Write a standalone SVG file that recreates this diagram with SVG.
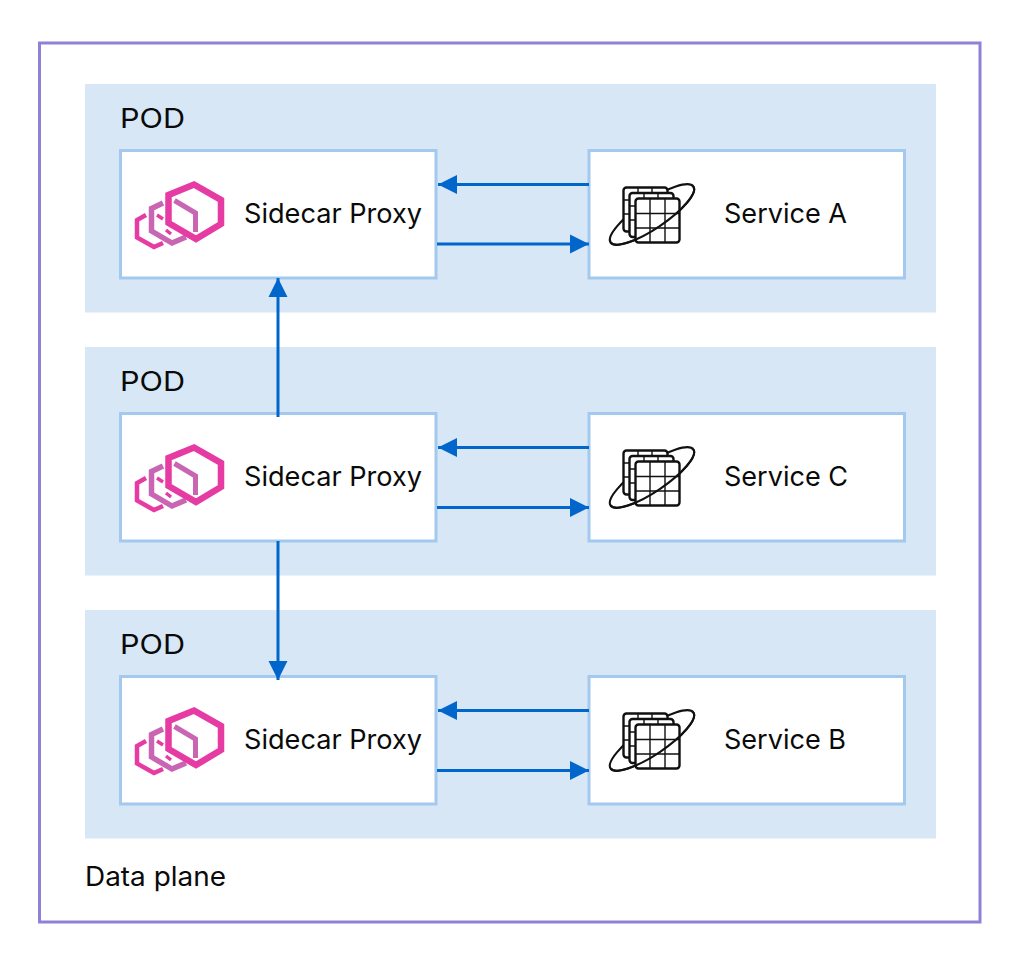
<svg xmlns="http://www.w3.org/2000/svg" xmlns:xlink="http://www.w3.org/1999/xlink" width="1015" height="967" viewBox="0 0 1015 967">
<style>
text{font-family:"Inter","Liberation Sans",sans-serif;fill:#0a0a0a;font-size:27px}
.pod{fill:#d8e7f6}
.box{fill:#fff;stroke:#a3c9ee;stroke-width:3}
.conn{stroke:#0066cc;stroke-width:3;fill:none;marker-end:url(#ah)}
.p{fill:none;stroke:#e63ba3;stroke-linejoin:miter}
.q{fill:none;stroke:#c965b3;stroke-linejoin:miter}
.g{fill:#fff;stroke:#111;stroke-width:2.400}
.l{fill:none;stroke:#111;stroke-width:1.400}
.e{fill:none;stroke:#111;stroke-width:2.100}
</style>
<defs>
<marker id="ah" markerUnits="userSpaceOnUse" markerWidth="20" markerHeight="20" refX="19" refY="10" orient="auto"><path d="M0 .5L19 10L0 19.5Z" fill="#0066cc"/></marker>
<g id="envoy">
<path class="p" stroke-width="4.500" d="M146 215L137 220V237.500L154 247L163 243"/>
<path class="q" stroke-width="5.500" d="M163 203L151.500 208.500V231L172 243L186 237"/>
<path class="p" stroke-width="3.500" d="M157 215L163 219M166 230L171 234"/>
<path class="p" stroke-width="6.500" d="M194 184.500L221 200V224L196 239L168.500 223V195Z"/>
<path class="q" stroke-width="5" d="M174.500 200.500L195.500 213V232"/>
</g>
<g id="svc">
<ellipse class="e" cx="652" cy="214.500" rx="50" ry="14" transform="rotate(-34 652 214.500)"/>
<rect class="g" x="623.500" y="187.500" width="44" height="44" rx="3"/>
<path class="l" d="M638 187V230M652 187V230M623 200H668M623 214H668"/>
<rect class="g" x="629.500" y="193" width="44" height="44" rx="3"/>
<path class="l" d="M644 193V236M658 193V236M629 206H674M629 220H674"/>
<rect class="g" x="635.500" y="198.500" width="44" height="44" rx="3"/>
<path class="l" d="M650 198V242M665 198V242M635 213.500H679M635 228H679"/>
<path class="e" d="M610.550 242.460A50 14 -34 0 0 693.450 186.540"/>
</g>
</defs>
<rect width="1015" height="967" fill="#fff"/>
<rect id="data-plane" x="39.500" y="43" width="940.500" height="879" fill="#fff" stroke="#9180d8" stroke-width="3"/>
<text id="data-plane-label" x="85" y="886" textLength="141" lengthAdjust="spacingAndGlyphs">Data plane</text>
<g id="pod-a">
<rect class="pod" x="85" y="84" width="851" height="228.500"/>
<text x="120" y="128" textLength="65" lengthAdjust="spacingAndGlyphs">POD</text>
</g>
<g id="pod-c">
<rect class="pod" x="85" y="347" width="851" height="228.500"/>
<text x="120" y="391" textLength="65" lengthAdjust="spacingAndGlyphs">POD</text>
</g>
<g id="pod-b">
<rect class="pod" x="85" y="610" width="851" height="228.500"/>
<text x="120" y="654" textLength="65" lengthAdjust="spacingAndGlyphs">POD</text>
</g>
<g id="proxy-a">
<rect class="box" x="120.500" y="150.500" width="315.500" height="127.500"/>
<use xlink:href="#envoy" href="#envoy"/>
<text x="244" y="223" textLength="178" lengthAdjust="spacingAndGlyphs">Sidecar Proxy</text>
</g>
<g id="service-a">
<rect class="box" x="589" y="150.500" width="315.500" height="127.500"/>
<use xlink:href="#svc" href="#svc"/>
<text x="724" y="223" textLength="123" lengthAdjust="spacingAndGlyphs">Service A</text>
</g>
<g id="proxy-c">
<rect class="box" x="120.500" y="413.500" width="315.500" height="127.500"/>
<use xlink:href="#envoy" href="#envoy" y="263"/>
<text x="244" y="486" textLength="178" lengthAdjust="spacingAndGlyphs">Sidecar Proxy</text>
</g>
<g id="service-c">
<rect class="box" x="589" y="413.500" width="315.500" height="127.500"/>
<use xlink:href="#svc" href="#svc" y="263"/>
<text x="724" y="486" textLength="124" lengthAdjust="spacingAndGlyphs">Service C</text>
</g>
<g id="proxy-b">
<rect class="box" x="120.500" y="676.500" width="315.500" height="127.500"/>
<use xlink:href="#envoy" href="#envoy" y="526"/>
<text x="244" y="749" textLength="178" lengthAdjust="spacingAndGlyphs">Sidecar Proxy</text>
</g>
<g id="service-b">
<rect class="box" x="589" y="676.500" width="315.500" height="127.500"/>
<use xlink:href="#svc" href="#svc" y="526"/>
<text x="724" y="749" textLength="122" lengthAdjust="spacingAndGlyphs">Service B</text>
</g>
<g id="connectors">
<path class="conn" d="M589 184.500H438"/>
<path class="conn" d="M437 244H589"/>
<path class="conn" d="M589 447.500H438"/>
<path class="conn" d="M437 507.500H589"/>
<path class="conn" d="M589 710.500H438"/>
<path class="conn" d="M437 770.500H589"/>
<path class="conn" d="M278 417V278"/>
<path class="conn" d="M278 541V680"/>
</g>
</svg>
